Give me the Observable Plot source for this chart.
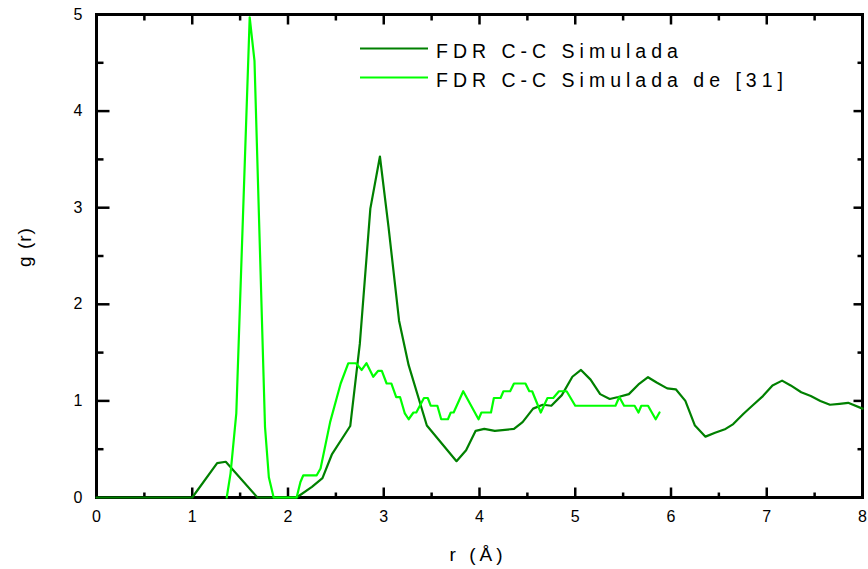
<!DOCTYPE html>
<html><head><meta charset="utf-8">
<script src="https://cdn.jsdelivr.net/npm/d3@7"></script>
<script src="https://cdn.jsdelivr.net/npm/@observablehq/plot@0.6"></script>
<style>body{margin:0;background:#fff} svg{display:block}</style>
</head><body><div id="chart"></div>
<script>
// Series 1: FDR C-C Simulada (dark green)
const rSim = [0, 1.0, 1.26, 1.35, 1.68, 2.09, 2.25, 2.36, 2.46, 2.65, 2.75, 2.86, 2.96, 3.05, 3.16, 3.26, 3.45, 3.76, 3.86, 3.96, 4.05, 4.16, 4.36, 4.45, 4.56, 4.66, 4.75, 4.86, 4.97, 5.06, 5.16, 5.26, 5.36, 5.45, 5.56, 5.66, 5.76, 5.85, 5.96, 6.05, 6.15, 6.25, 6.36, 6.46, 6.57, 6.65, 6.76, 6.86, 6.96, 7.06, 7.16, 7.25, 7.36, 7.46, 7.56, 7.66, 7.76, 7.85, 8.0];
const gSim = [0, 0, 0.355, 0.37, 0, 0, 0.11, 0.2, 0.45, 0.74, 1.59, 2.99, 3.53, 2.8, 1.83, 1.37, 0.745, 0.376, 0.49, 0.69, 0.71, 0.69, 0.71, 0.78, 0.92, 0.96, 0.95, 1.06, 1.25, 1.32, 1.22, 1.07, 1.02, 1.04, 1.07, 1.17, 1.245, 1.19, 1.13, 1.12, 1.0, 0.745, 0.63, 0.67, 0.71, 0.76, 0.87, 0.96, 1.05, 1.16, 1.21, 1.16, 1.09, 1.05, 1.0, 0.96, 0.97, 0.98, 0.92];
// Series 2: FDR C-C Simulada de [31] (light green)
const rRef = [1.36, 1.40, 1.46, 1.60, 1.65, 1.76, 1.80, 1.85, 2.09, 2.13, 2.16, 2.30, 2.34, 2.44, 2.55, 2.63, 2.71, 2.77, 2.82, 2.89, 2.94, 2.98, 3.03, 3.08, 3.13, 3.17, 3.22, 3.26, 3.31, 3.34, 3.42, 3.46, 3.49, 3.56, 3.60, 3.67, 3.70, 3.73, 3.83, 3.99, 4.02, 4.12, 4.15, 4.22, 4.25, 4.32, 4.36, 4.48, 4.52, 4.55, 4.64, 4.71, 4.77, 4.83, 4.91, 5.00, 5.42, 5.46, 5.51, 5.62, 5.66, 5.69, 5.76, 5.84, 5.88];
const gRef = [0, 0.25, 0.87, 4.97, 4.52, 0.73, 0.21, 0, 0, 0.16, 0.23, 0.23, 0.3, 0.78, 1.18, 1.39, 1.39, 1.32, 1.39, 1.25, 1.31, 1.31, 1.18, 1.18, 1.04, 1.04, 0.87, 0.81, 0.88, 0.88, 1.03, 1.03, 0.95, 0.95, 0.81, 0.81, 0.88, 0.88, 1.10, 0.81, 0.88, 0.88, 1.03, 1.03, 1.10, 1.10, 1.18, 1.18, 1.10, 1.10, 0.88, 1.03, 1.03, 1.10, 1.10, 0.95, 0.95, 1.04, 0.95, 0.95, 0.88, 0.95, 0.95, 0.81, 0.88];

const xMajor = [0, 1, 2, 3, 4, 5, 6, 7, 8];
const xMinor = [0.5, 1.5, 2.5, 3.5, 4.5, 5.5, 6.5, 7.5];
const yMajor = [0, 1, 2, 3, 4, 5];
const yMinor = [0.5, 1.5, 2.5, 3.5, 4.5];
const seriesNames = ["FDR C-C Simulada", "FDR C-C Simulada de [31]"];
const seriesColors = ["#008000", "#00ff00"];
const xTitle = "r (Å)";
const yTitle = "g (r)";

const sim = rSim.map((r, i) => ({r, g: gSim[i]}));
const ref = rRef.map((r, i) => ({r, g: gRef[i]}));

const W = 868, H = 569, mL = 96, mR = 6, mT = 14, mB = 72;
const plotH = H - mT - mB, plotW = W - mL - mR;
const xMax = 8, yMax = 5;
const dy = px => px * yMax / plotH;   // pixel length -> y data units
const dx = px => px * xMax / plotW;   // pixel length -> x data units
const font = "'Liberation Sans', Arial, sans-serif";

// inward tick segments on all four sides, built from the tick arrays
const tickSegs = [
  ...xMajor.map(v => ({x1: v, x2: v, y1: 0, y2: dy(10)})),
  ...xMinor.map(v => ({x1: v, x2: v, y1: 0, y2: dy(5)})),
  ...xMajor.map(v => ({x1: v, x2: v, y1: yMax - dy(10), y2: yMax})),
  ...xMinor.map(v => ({x1: v, x2: v, y1: yMax - dy(6), y2: yMax})),
  ...yMajor.map(v => ({y1: v, y2: v, x1: 0, x2: dx(13)})),
  ...yMinor.map(v => ({y1: v, y2: v, x1: 0, x2: dx(7)})),
  ...yMajor.map(v => ({y1: v, y2: v, x1: xMax - dx(9), x2: xMax})),
  ...yMinor.map(v => ({y1: v, y2: v, x1: xMax - dx(5), x2: xMax}))
];

const chart = Plot.plot({
  width: W, height: H,
  marginLeft: mL, marginRight: mR, marginTop: mT, marginBottom: mB,
  style: {fontFamily: font, background: "white", color: "black"},
  x: {domain: [0, xMax]},
  y: {domain: [0, yMax]},
  marks: [
    Plot.axisX(xMajor, {tickSize: 0, tickPadding: 13, fontSize: 16, label: null, tickFormat: d => String(d)}),
    Plot.axisY(yMajor, {tickSize: 0, tickPadding: 14, fontSize: 16, label: null, tickFormat: d => String(d)}),
    Plot.link(tickSegs, {x1: "x1", y1: "y1", x2: "x2", y2: "y2", stroke: "black", strokeWidth: 2.5}),
    Plot.frame({stroke: "black", strokeWidth: 3}),
    Plot.line(sim, {x: "r", y: "g", stroke: seriesColors[0], strokeWidth: 2.2}),
    Plot.line(ref, {x: "r", y: "g", stroke: seriesColors[1], strokeWidth: 2.2})
  ]
});

const svg = d3.select(chart);
function addText(sel, size, spacing, anchor) {
  return sel.style("font-family", font).style("font-size", size + "px")
    .style("letter-spacing", spacing + "px").style("text-anchor", anchor)
    .attr("fill", "black");
}
// legend (inside the plot, upper middle)
seriesNames.forEach((name, i) => {
  const yLine = 48.5 + i * 29;
  svg.append("line")
    .attr("x1", 360).attr("x2", 428).attr("y1", yLine).attr("y2", yLine)
    .attr("stroke", seriesColors[i]).attr("stroke-width", 2.2);
  addText(svg.append("text").attr("x", 436).attr("y", yLine + 9), 19.5, 5, "start").text(name);
});
// axis titles
addText(svg.append("text").attr("x", 478).attr("y", 561), 19, 4, "middle").text(xTitle);
addText(svg.append("text").attr("transform", "translate(31,247) rotate(-90)"), 19, 1, "middle").text(yTitle);

document.getElementById("chart").append(chart);
</script>
</body></html>
